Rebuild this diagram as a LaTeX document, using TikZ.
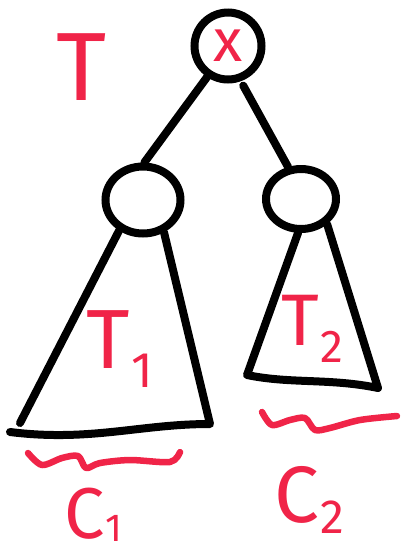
\documentclass[tikz,border=0pt]{standalone}
\usepackage{fontspec}
\setmainfont{Fira Sans}
\definecolor{inkred}{RGB}{240,36,72}
\usetikzlibrary{shapes.geometric}

% main letter, lowered index, index size, drop
\newcommand{\idxtxt}[4]{#1\kern0.02em\raisebox{-#4}{\fontsize{#3}{#3}\selectfont #2}}

\begin{document}
\begin{tikzpicture}[x=1pt, y=-1pt,
  tnode/.style={ellipse, draw=black, line width=8pt, inner sep=0pt},
  tree/.style={draw=black, line width=8pt, line cap=round, line join=round},
  lbl/.style={text=inkred, inner sep=0pt},
  wave/.style={draw=inkred, line width=6.5pt, line cap=round, line join=round}
]
\useasboundingbox (0,0) rectangle (403,558);

% Tree nodes
\node[tnode, minimum width=67pt, minimum height=67pt, text=inkred,
      font=\fontsize{60}{60}\selectfont] (root)  at (228,46)  {x};
\node[tnode, minimum width=75pt, minimum height=67pt] (left)  at (143,200) {};
\node[tnode, minimum width=70pt, minimum height=60pt] (right) at (301,199) {};

% Edges
\draw[tree] (root.236) -- (left.88);
\draw[tree, shorten <=5pt] (root.290) -- (right.112);

% Subtrees
\coordinate (T1bl)   at (20,423);
\coordinate (T1base) at (10,432);
\coordinate (T1br)   at (210,424);
\draw[tree] (left.-128) -- (T1bl);
\draw[tree] (T1base) .. controls (90,442) and (140,424) .. (T1br) -- (left.-57);

\coordinate (T2bl) at (247,375);
\coordinate (T2br) at (378,388);
\draw[tree] (right.-95) -- (T2bl) .. controls (290,384) and (330,378) .. (T2br) -- (right.-44);

% Labels
\node[lbl, font=\fontsize{97}{97}\selectfont] (tname) at (82,67) {T};
\node[lbl, anchor=base west, font=\fontsize{84}{84}\selectfont] (tone) at (86,368)
  {\idxtxt{T}{1}{50}{19pt}};
\node[lbl, anchor=base west, font=\fontsize{73}{73}\selectfont] (ttwo) at (281,345)
  {\idxtxt{T}{2}{46}{17pt}};
\node[lbl, anchor=base west, font=\fontsize{72}{72}\selectfont] (cone) at (64,538)
  {\idxtxt{C}{1}{39}{3pt}};
\node[lbl, anchor=base west, font=\fontsize{80}{80}\selectfont] (ctwo) at (274,522)
  {\idxtxt{C}{2}{48}{11pt}};

% Size marks
\draw[wave] plot[smooth] coordinates {(28,453) (42,465) (62,458) (78,456) (86,468)
  (100,463) (130,460) (170,462) (180,452)};
\draw[wave] plot[smooth] coordinates {(262,412) (272,425) (290,420) (305,418)
  (315,430) (330,428) (360,420) (397,416)};
\end{tikzpicture}
\end{document}
